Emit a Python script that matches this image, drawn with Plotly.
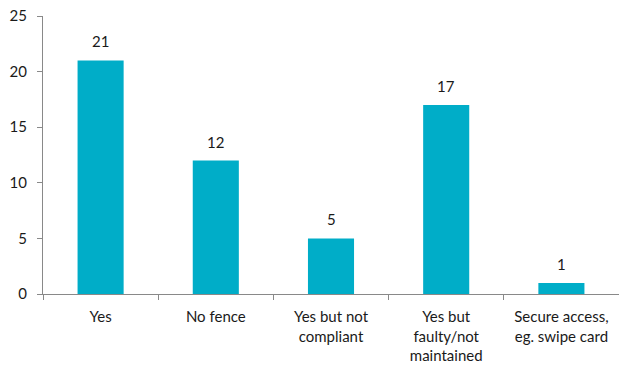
import plotly.graph_objects as go

categories = ["Yes", "No fence", "Yes but not<br>compliant",
              "Yes but<br>faulty/not<br>maintained", "Secure access,<br>eg. swipe card"]
values = [21, 12, 5, 17, 1]
y_ticks = [0, 5, 10, 15, 20, 25]

bar_color = "#00ADC8"
axis_color = "#898989"
font = dict(family="Lato, Open Sans, sans-serif", size=15, color="#1a1a1a")

fig = go.Figure(go.Bar(x=categories, y=values, marker=dict(color=bar_color, line=dict(width=0))))

for c, v in zip(categories, values):
    fig.add_annotation(x=c, y=v, text=str(v), showarrow=False, yanchor="bottom",
                       yshift=8, font=font)

fig.update_layout(
    width=619, height=371,
    margin=dict(l=43, r=0, t=16, b=77),
    paper_bgcolor="white", plot_bgcolor="white",
    bargap=0.6, font=font, showlegend=False,
)
fig.update_xaxes(
    type="category", showline=True, linecolor=axis_color, linewidth=1,
    ticks="outside", tickson="boundaries", ticklen=5, tickcolor=axis_color,
    showgrid=False, tickfont=font, ticklabelstandoff=9,
)
fig.update_yaxes(
    range=[0, 25], tickvals=y_ticks, showline=True, linecolor=axis_color, linewidth=1,
    ticks="outside", ticklen=5, tickcolor=axis_color, showgrid=False, zeroline=False,
    tickfont=font, ticklabelstandoff=7,
)

fig.write_html("out.html")
